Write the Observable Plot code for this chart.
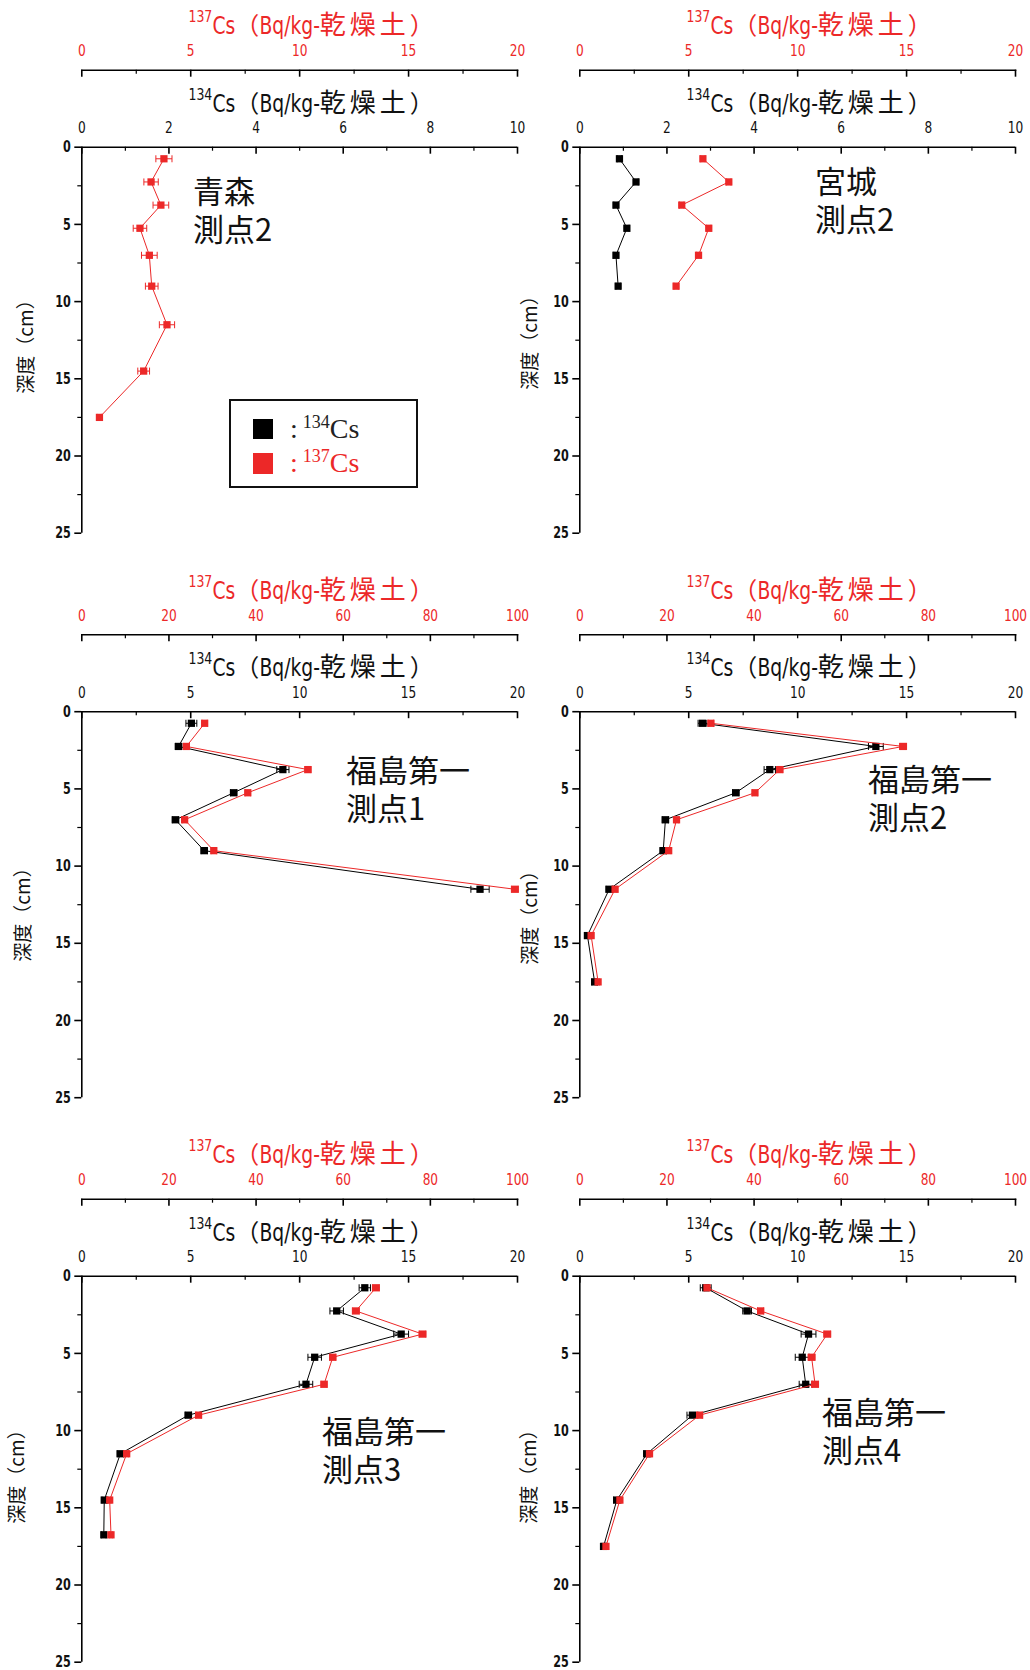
<!DOCTYPE html>
<html>
<head>
<meta charset="utf-8">
<script src="https://cdn.jsdelivr.net/npm/d3@7"></script>
<script src="https://cdn.jsdelivr.net/npm/@observablehq/plot@0.6"></script>
<style>
html,body{margin:0;padding:0;background:#fff;}
#chart{position:relative;width:1030px;height:1670px;overflow:hidden;background:#fff;font-family:"DejaVu Sans","Noto Sans CJK JP",sans-serif;}
#chart svg{position:absolute;left:0;top:0;}
.title{position:absolute;white-space:nowrap;font-size:24px;line-height:1;transform:translate(-50%,-50%);
  font-family:"Noto Sans CJK JP",sans-serif;color:#111;}
.title .c{display:inline-block;font-family:"DejaVu Sans",sans-serif;transform:scaleX(0.78);transform-origin:0 50%;}
.title .j{letter-spacing:4px;font-size:26px;}
.title .sup{font-size:16px;position:relative;top:-12px;}
.red{color:#ec2828 !important;}
.site{position:absolute;white-space:pre;font-family:"Noto Sans CJK JP",sans-serif;font-size:31px;line-height:38px;color:#111;}
.ylab{position:absolute;white-space:nowrap;font-family:"Noto Sans CJK JP",sans-serif;font-size:19px;line-height:1;
  transform:translate(-50%,-50%) rotate(-90deg);color:#111;}
.legend{position:absolute;box-sizing:border-box;border:2px solid #111;background:#fff;}
.lsq{position:absolute;width:20px;height:20px;}
.lrow{position:absolute;white-space:nowrap;font-family:"Liberation Serif","DejaVu Serif",serif;font-size:28px;line-height:34px;color:#222;}
.lrow .sup{font-size:18px;position:relative;top:-10px;margin-left:5px;}
</style>
</head>
<body>
<div id="chart"></div>
<script>
// ---------------- data ----------------
const RED = "#ec2828";
const BLACK = "#000";

// depth axis ticks (cm)
const depthMajor = [0, 5, 10, 15, 20, 25];
const depthMinor = [2.5, 7.5, 12.5, 17.5, 22.5];
// low-range axes (Aomori, Miyagi)
const ticksLow134 = [0, 2, 4, 6, 8, 10];
const minorLow134 = [1, 3, 5, 7, 9];
const ticksLow137 = [0, 5, 10, 15, 20];
const minorLow137 = [2.5, 7.5, 12.5, 17.5];
// high-range axes (Fukushima)
const ticksHigh134 = [0, 5, 10, 15, 20];
const minorHigh134 = [2.5, 7.5, 12.5, 17.5];
const ticksHigh137 = [0, 20, 40, 60, 80, 100];
const minorHigh137 = [10, 30, 50, 70, 90];

const siteNames = ["青森\n測点2", "宮城\n測点2", "福島第一\n測点1", "福島第一\n測点2", "福島第一\n測点3", "福島第一\n測点4"];
const titleParts = ["Cs", "（", "Bq/kg-", "乾燥土", "）"];
const yLabel = "深度（cm）";

// Aomori site 2 (134Cs not detected)
const aomoriDepth = [0.75, 2.25, 3.75, 5.25, 7, 9, 11.5, 14.5, 17.5];
const aomori134 = [];
const aomori134Err = [];
const aomori137 = [3.77, 3.18, 3.63, 2.67, 3.10, 3.21, 3.91, 2.84, 0.81];
const aomori137Err = [0.37, 0.33, 0.36, 0.31, 0.36, 0.29, 0.35, 0.27, 0.1];

// Miyagi site 2
const miyagiDepth = [0.75, 2.25, 3.75, 5.25, 7, 9];
const miyagi134 = [0.91, 1.29, 0.83, 1.08, 0.83, 0.88];
const miyagi134Err = [0.05, 0.05, 0.05, 0.05, 0.05, 0.05];
const miyagi137 = [5.65, 6.84, 4.68, 5.92, 5.45, 4.42];
const miyagi137Err = [0.1, 0.1, 0.1, 0.1, 0.1, 0.1];

// Fukushima Daiichi site 1
const fk1Depth = [0.75, 2.25, 3.75, 5.25, 7, 9, 11.5];
const fk1_134 = [5.03, 4.44, 9.23, 6.97, 4.30, 5.62, 18.28];
const fk1_134Err = [0.25, 0.15, 0.28, 0.15, 0.15, 0.15, 0.42];
const fk1_137 = [28.2, 24.0, 51.9, 38.1, 23.6, 30.3, 99.4];
const fk1_137Err = [0.6, 0.6, 0.7, 0.6, 0.5, 0.6, 0.8];

// Fukushima Daiichi site 2
const fk2Depth = [0.75, 2.25, 3.75, 5.25, 7, 9, 11.5, 14.5, 17.5];
const fk2_134 = [5.63, 13.59, 8.72, 7.16, 3.93, 3.83, 1.35, 0.35, 0.68];
const fk2_134Err = [0.2, 0.34, 0.26, 0.15, 0.15, 0.15, 0.15, 0.12, 0.12];
const fk2_137 = [30.1, 74.2, 45.9, 40.2, 22.2, 20.4, 8.1, 2.6, 4.2];
const fk2_137Err = [0.6, 0.8, 0.7, 0.6, 0.5, 0.5, 0.4, 0.3, 0.3];

// Fukushima Daiichi site 3
const fk3Depth = [0.75, 2.25, 3.75, 5.25, 7, 9, 11.5, 14.5, 16.75];
const fk3_134 = [12.99, 11.70, 14.66, 10.69, 10.29, 4.89, 1.77, 1.03, 1.01];
const fk3_134Err = [0.26, 0.31, 0.34, 0.31, 0.31, 0.15, 0.15, 0.1, 0.1];
const fk3_137 = [67.5, 62.9, 78.2, 57.6, 55.6, 26.8, 10.3, 6.4, 6.7];
const fk3_137Err = [0.8, 0.8, 0.8, 0.7, 0.7, 0.6, 0.4, 0.3, 0.3];

// Fukushima Daiichi site 4
const fk4Depth = [0.75, 2.25, 3.75, 5.25, 7, 9, 11.5, 14.5, 17.5];
const fk4_134 = [5.78, 7.68, 10.50, 10.21, 10.37, 5.17, 3.08, 1.70, 1.09];
const fk4_134Err = [0.25, 0.2, 0.34, 0.32, 0.3, 0.25, 0.15, 0.15, 0.1];
const fk4_137 = [29.2, 41.5, 56.8, 53.2, 54.0, 27.5, 16.0, 9.2, 6.0];
const fk4_137Err = [0.6, 0.7, 0.8, 0.8, 0.8, 0.6, 0.5, 0.4, 0.3];

// ---------------- layout ----------------
const W = 1030, H = 1670;
const colX = [[81.3, 517], [579.3, 1015]];
const rowY0 = [146.7, 711.2, 1275.7];
const depthSpan = 386;
const NUMFONT = "DejaVu Sans, sans-serif";
const COND = 0.78;

const panels = [
  {row: 0, col: 0, depth: aomoriDepth, c134: aomori134, e134: aomori134Err, c137: aomori137, e137: aomori137Err,
   max134: 10, max137: 20, t134: ticksLow134, m134: minorLow134, t137: ticksLow137, m137: minorLow137,
   site: [194, 177], ylab: [24, 342]},
  {row: 0, col: 1, depth: miyagiDepth, c134: miyagi134, e134: miyagi134Err, c137: miyagi137, e137: miyagi137Err,
   max134: 10, max137: 20, t134: ticksLow134, m134: minorLow134, t137: ticksLow137, m137: minorLow137,
   site: [816, 167], ylab: [528, 338]},
  {row: 1, col: 0, depth: fk1Depth, c134: fk1_134, e134: fk1_134Err, c137: fk1_137, e137: fk1_137Err,
   max134: 20, max137: 100, t134: ticksHigh134, m134: minorHigh134, t137: ticksHigh137, m137: minorHigh137,
   site: [347, 756], ylab: [21, 910]},
  {row: 1, col: 1, depth: fk2Depth, c134: fk2_134, e134: fk2_134Err, c137: fk2_137, e137: fk2_137Err,
   max134: 20, max137: 100, t134: ticksHigh134, m134: minorHigh134, t137: ticksHigh137, m137: minorHigh137,
   site: [869, 765], ylab: [528, 913]},
  {row: 2, col: 0, depth: fk3Depth, c134: fk3_134, e134: fk3_134Err, c137: fk3_137, e137: fk3_137Err,
   max134: 20, max137: 100, t134: ticksHigh134, m134: minorHigh134, t137: ticksHigh137, m137: minorHigh137,
   site: [323, 1417], ylab: [15, 1472]},
  {row: 2, col: 1, depth: fk4Depth, c134: fk4_134, e134: fk4_134Err, c137: fk4_137, e137: fk4_137Err,
   max134: 20, max137: 100, t134: ticksHigh134, m134: minorHigh134, t137: ticksHigh137, m137: minorHigh137,
   site: [823, 1398], ylab: [527, 1472]}
];

const chart = document.getElementById("chart");
const capSymbol = {draw(ctx) { ctx.moveTo(0, -3.5); ctx.lineTo(0, 3.5); }};

function seriesMarks(rows, color) {
  const withErr = rows.filter(d => d.e > 0);
  return [
    Plot.link(withErr, {x1: d => d.v - d.e, x2: d => d.v + d.e, y1: "depth", y2: "depth", stroke: color, strokeWidth: 1}),
    Plot.dot(withErr, {x: d => d.v - d.e, y: "depth", symbol: capSymbol, r: 3, fill: "none", stroke: color, strokeWidth: 1}),
    Plot.dot(withErr, {x: d => d.v + d.e, y: "depth", symbol: capSymbol, r: 3, fill: "none", stroke: color, strokeWidth: 1}),
    Plot.line(rows, {x: "v", y: "depth", stroke: color, strokeWidth: 1}),
    Plot.dot(rows, {x: "v", y: "depth", symbol: "square", r: 4.1, fill: color, stroke: "none"})
  ];
}

// narrow the tick-label glyphs (the original uses a tall condensed gothic face)
function condense(svg, selector, s) {
  svg.querySelectorAll(selector).forEach(t => {
    let tr = t.getAttribute("transform");
    if (!tr) {
      const x = +(t.getAttribute("x") || 0), y = +(t.getAttribute("y") || 0);
      t.removeAttribute("x"); t.removeAttribute("y");
      tr = `translate(${x},${y})`;
    }
    t.setAttribute("transform", `${tr} scale(${s},1)`);
  });
}

function addDiv(cls, html, style) {
  const d = document.createElement("div");
  d.className = cls;
  d.innerHTML = html;
  Object.assign(d.style, style);
  chart.appendChild(d);
  return d;
}

function titleHTML(iso) {
  const [cs, lp, unit, jp, rp] = titleParts;
  return `<span class="c sup">${iso}</span><span class="c">${cs}</span>${lp}<span class="c">${unit}</span><span class="j">${jp}</span>${rp}`;
}

panels.forEach((p, idx) => {
  const [x0, x1] = colX[p.col];
  const y0 = rowY0[p.row], y1 = y0 + depthSpan;
  const frameH = y1 - y0;
  const yRed = y0 - 77;
  const rows134 = p.c134.map((v, i) => ({depth: p.depth[i], v, e: p.e134[i]}));
  const rows137 = p.c137.map((v, i) => ({depth: p.depth[i], v, e: p.e137[i]}));

  const blackPlot = Plot.plot({
    width: W, height: H,
    marginLeft: x0, marginRight: W - x1, marginTop: y0, marginBottom: H - y1,
    style: {background: "transparent", overflow: "visible", fontFamily: NUMFONT},
    x: {domain: [0, p.max134]},
    y: {domain: [0, 25], reverse: true},
    marks: [
      Plot.ruleY([0], {stroke: BLACK, strokeWidth: 1.6}),
      Plot.ruleX([0], {stroke: BLACK, strokeWidth: 1.6}),
      Plot.ruleX(p.t134, {stroke: BLACK, strokeWidth: 1.6, insetBottom: frameH - 7}),
      Plot.ruleX(p.m134, {stroke: BLACK, strokeWidth: 1.2, insetBottom: frameH - 4}),
      Plot.axisX(p.t134, {anchor: "top", tickSize: 0, tickPadding: 14, fontSize: 16, fontFamily: NUMFONT, fill: "#111", label: null}),
      Plot.axisY(depthMajor, {anchor: "left", tickSize: 7, tickPadding: 4, strokeWidth: 1.6, fontSize: 16,
        fontWeight: "bold", fontFamily: NUMFONT, fill: "#111", label: null}),
      Plot.axisY(depthMinor, {anchor: "left", tickSize: 4, strokeWidth: 1.2, tickFormat: () => "", label: null}),
      ...(rows134.length ? seriesMarks(rows134, BLACK) : [])
    ]
  });
  condense(blackPlot, 'g[aria-label="x-axis tick label"] text', 0.76);
  condense(blackPlot, 'g[aria-label="y-axis tick label"] text', 0.7);
  chart.appendChild(blackPlot);

  const redPlot = Plot.plot({
    width: W, height: H,
    marginLeft: x0, marginRight: W - x1, marginTop: yRed, marginBottom: H - (yRed + 7),
    style: {background: "transparent", overflow: "visible", fontFamily: NUMFONT},
    x: {domain: [0, p.max137]},
    y: {domain: [0, 25], range: [y0, y1], axis: null},
    marks: [
      Plot.frame({anchor: "top", stroke: BLACK, strokeWidth: 1.6}),
      Plot.ruleX(p.t137, {stroke: BLACK, strokeWidth: 1.6}),
      Plot.ruleX(p.m137, {stroke: BLACK, strokeWidth: 1.2, insetBottom: 3}),
      Plot.axisX(p.t137, {anchor: "top", tickSize: 0, tickPadding: 14, fontSize: 16, fontFamily: NUMFONT, fill: RED, label: null}),
      ...seriesMarks(rows137, RED)
    ]
  });
  condense(redPlot, 'g[aria-label="x-axis tick label"] text', 0.76);
  chart.appendChild(redPlot);

  const cx = (x0 + x1) / 2 + 12;
  addDiv("title red", titleHTML("137"), {left: cx + "px", top: (y0 - 122.5) + "px"});
  addDiv("title", titleHTML("134"), {left: cx + "px", top: (y0 - 45) + "px"});
  addDiv("site", siteNames[idx], {left: (p.site[0] - 1) + "px", top: (p.site[1] - 6) + "px"});
  addDiv("ylab", yLabel, {left: p.ylab[0] + "px", top: p.ylab[1] + "px"});
});

// collapse the layout width of horizontally condensed title fragments
chart.querySelectorAll(".title .c").forEach(el => {
  const w = el.offsetWidth;
  el.style.marginRight = (-(w * (1 - COND))) + "px";
});

// legend (panel 1)
addDiv("legend", "", {left: "229px", top: "399px", width: "189px", height: "89px"});
addDiv("lsq", "", {left: "253px", top: "419px", background: BLACK});
addDiv("lsq", "", {left: "253px", top: "453px", background: RED, height: "21px"});
addDiv("lrow", `:<span class="sup">134</span>Cs`, {left: "290px", top: "412px"});
addDiv("lrow red", `:<span class="sup">137</span>Cs`, {left: "290px", top: "446px"});
</script>
</body>
</html>
